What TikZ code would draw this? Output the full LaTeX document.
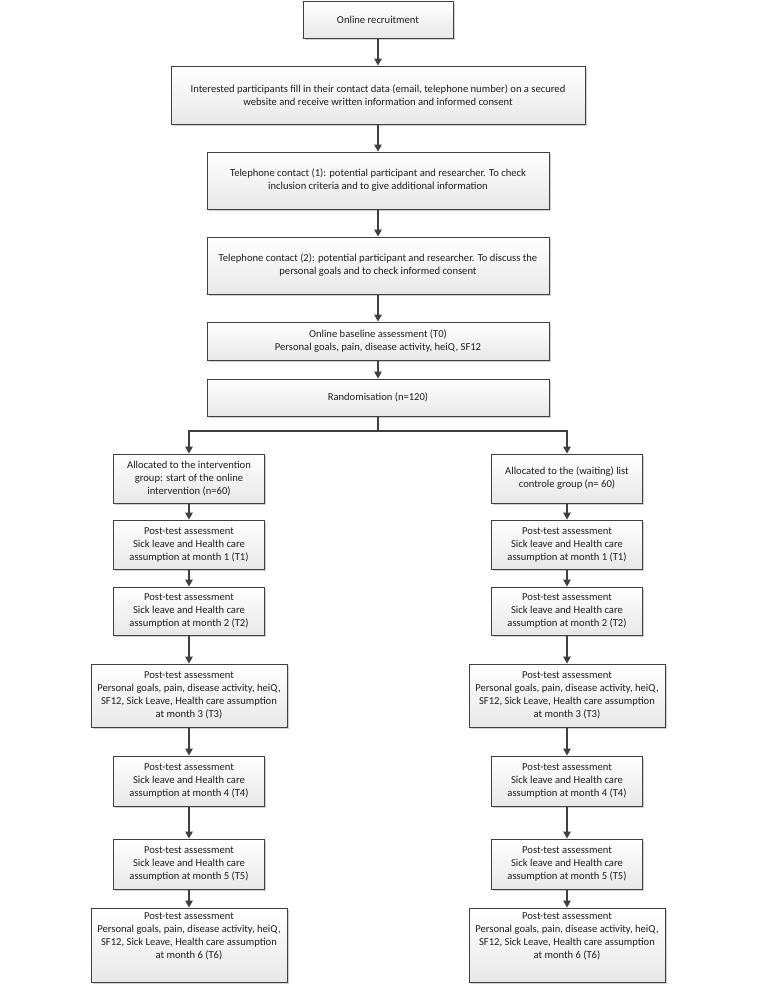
\documentclass[tikz,border=0pt]{standalone}
\usepackage{fontspec}
\setmainfont{Carlito}
\usetikzlibrary{arrows.meta,shadows}
\definecolor{edge}{HTML}{404040}
\tikzset{
  txtfont/.style={font=\fontsize{10.6pt}{13pt}\selectfont, text=black!88},
  box/.style={draw=edge, line width=0.9pt, rectangle, align=center,
    top color=white, bottom color=black!9,
    drop shadow={shadow xshift=1.8pt, shadow yshift=-1.8pt, fill=black!30, opacity=0.6},
    txtfont, inner sep=2pt},
  arr/.style={draw=edge, line width=1.1pt, -{Triangle[width=7.5pt,length=7pt]}},
}
\begin{document}
\begin{tikzpicture}[x=1pt,y=1pt]
\useasboundingbox[fill=white] (0,0) rectangle (758,-986);
% main column
\node[box, minimum width=150, minimum height=37] (b1) at (378,-19.5) {Online recruitment};
\node[box, minimum width=414, minimum height=58] (b2) at (378,-95) {Interested participants fill in their contact data (email, telephone number) on a secured\\website and receive written information and informed consent};
\node[box, minimum width=342, minimum height=57] (b3) at (378,-180.5) {Telephone contact (1): potential participant and researcher. To check\\inclusion criteria and to give additional information};
\node[box, minimum width=342, minimum height=57] (b4) at (378,-265.5) {Telephone contact (2): potential participant and researcher. To discuss the\\personal goals and to check informed consent};
\node[box, minimum width=342, minimum height=38] (b5) at (378,-341) {Online baseline assessment (T0)\\Personal goals, pain, disease activity, heiQ, SF12};
\node[box, minimum width=342, minimum height=37] (b6) at (378,-397.5) {Randomisation (n=120)};
\coordinate (split) at (378,-431);
% left column
\node[box, minimum width=151, minimum height=49] (a1) at (189,-478.5) {Allocated to the intervention\\group: start of the online\\intervention (n=60)};
\node[box, minimum width=151, minimum height=49] (a2) at (189,-544.5) {Post-test assessment\\Sick leave and Health care\\assumption at month 1 (T1)};
\node[box, minimum width=151, minimum height=48] (a3) at (189,-611) {Post-test assessment\\Sick leave and Health care\\assumption at month 2 (T2)};
\node[box, minimum width=196, minimum height=63] (a4) at (189,-695.5) {Post-test assessment\\Personal goals, pain, disease activity, heiQ,\\SF12, Sick Leave, Health care assumption\\at month 3 (T3)};
\node[box, minimum width=151, minimum height=50] (a5) at (189,-781) {Post-test assessment\\Sick leave and Health care\\assumption at month 4 (T4)};
\node[box, minimum width=151, minimum height=50] (a6) at (189,-864) {Post-test assessment\\Sick leave and Health care\\assumption at month 5 (T5)};
\node[box, minimum width=196, minimum height=74,
  label={[anchor=north, align=center, txtfont, inner sep=5pt]north:{Post-test assessment\\Personal goals, pain, disease activity, heiQ,\\SF12, Sick Leave, Health care assumption\\at month 6 (T6)}}] (a7) at (189,-945) {};
% right column
\node[box, minimum width=151, minimum height=49] (c1) at (567,-478.5) {Allocated to the (waiting) list\\controle group (n= 60)};
\node[box, minimum width=151, minimum height=49] (c2) at (567,-544.5) {Post-test assessment\\Sick leave and Health care\\assumption at month 1 (T1)};
\node[box, minimum width=151, minimum height=48] (c3) at (567,-611) {Post-test assessment\\Sick leave and Health care\\assumption at month 2 (T2)};
\node[box, minimum width=196, minimum height=63] (c4) at (567,-695.5) {Post-test assessment\\Personal goals, pain, disease activity, heiQ,\\SF12, Sick Leave, Health care assumption\\at month 3 (T3)};
\node[box, minimum width=151, minimum height=50] (c5) at (567,-781) {Post-test assessment\\Sick leave and Health care\\assumption at month 4 (T4)};
\node[box, minimum width=151, minimum height=50] (c6) at (567,-864) {Post-test assessment\\Sick leave and Health care\\assumption at month 5 (T5)};
\node[box, minimum width=196, minimum height=74,
  label={[anchor=north, align=center, txtfont, inner sep=5pt]north:{Post-test assessment\\Personal goals, pain, disease activity, heiQ,\\SF12, Sick Leave, Health care assumption\\at month 6 (T6)}}] (c7) at (567,-945) {};
% connectors
\draw[arr] (b1) -- (b2);
\draw[arr] (b2) -- (b3);
\draw[arr] (b3) -- (b4);
\draw[arr] (b4) -- (b5);
\draw[arr] (b5) -- (b6);
\draw[draw=edge, line width=1.1pt] (b6.south) -- (split);
\draw[arr] (split) -| (a1.north);
\draw[arr] (split) -| (c1.north);
\draw[arr] (a1) -- (a2);
\draw[arr] (a2) -- (a3);
\draw[arr] (a3) -- (a4);
\draw[arr] (a4) -- (a5);
\draw[arr] (a5) -- (a6);
\draw[arr] (a6) -- (a7);
\draw[arr] (c1) -- (c2);
\draw[arr] (c2) -- (c3);
\draw[arr] (c3) -- (c4);
\draw[arr] (c4) -- (c5);
\draw[arr] (c5) -- (c6);
\draw[arr] (c6) -- (c7);
\end{tikzpicture}
\end{document}
